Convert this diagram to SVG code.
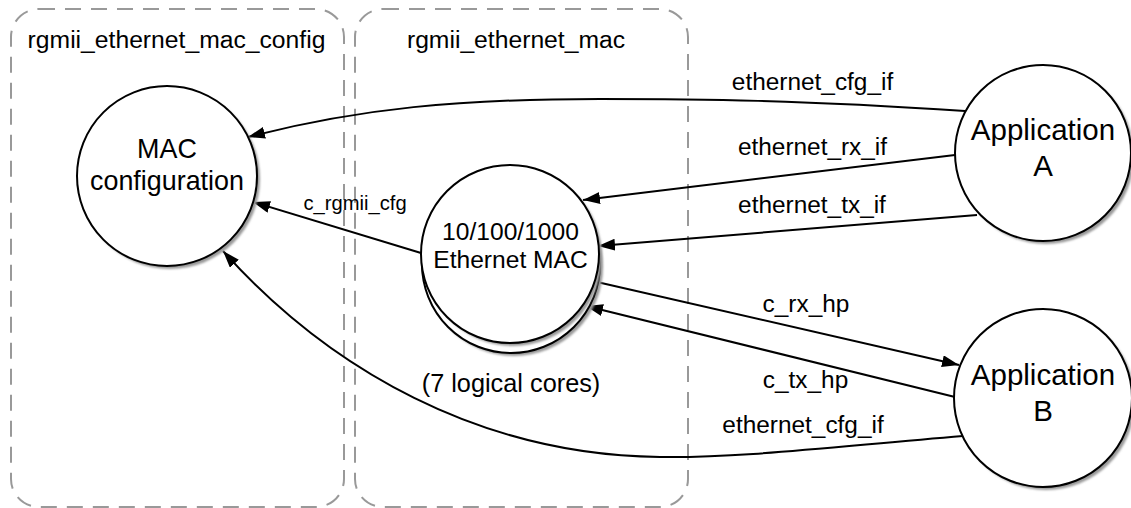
<svg xmlns="http://www.w3.org/2000/svg" width="1131" height="508" viewBox="0 0 1131 508">
<style>
.box{fill:none;stroke:#999;stroke-width:2;stroke-dasharray:16 10}
.node{fill:#fff;stroke:#000;stroke-width:2}
.shadow{fill:#999;stroke:none}
.edge{fill:none;stroke:#000;stroke-width:2;marker-end:url(#arrow)}
text{font-family:"Liberation Sans",Arial,sans-serif;fill:#000;text-anchor:middle}
.title{font-size:24.7px}
.lbl{font-size:24.4px}
.nt{font-size:26.9px}
.mt{font-size:24.6px}
.app{font-size:29.5px}
</style>
<defs>
<marker id="arrow" markerUnits="userSpaceOnUse" markerWidth="18" markerHeight="14" refX="17" refY="6" orient="auto">
<path d="M0,0 L17,6 L0,12 Z" fill="#000"/>
</marker>
<filter id="blur" x="-10%" y="-10%" width="120%" height="120%"><feGaussianBlur stdDeviation="1"/></filter>
</defs>
<rect width="1131" height="508" fill="#fff"/>
<g id="container_config">
<rect class="box" x="11" y="9" width="333" height="498" rx="28" ry="28"/>
<text class="title" x="176.5" y="48">rgmii_ethernet_mac_config</text>
</g>
<g id="container_mac">
<rect class="box" x="355" y="9" width="333" height="498" rx="28" ry="28"/>
<text class="title" x="516" y="48">rgmii_ethernet_mac</text>
</g>
<g id="connectors">
<path class="edge" d="M965,111 C800,100 700,99 600,99 C460,99 360,108 248,137"/>
<path class="edge" d="M955,155 L583,200"/>
<path class="edge" d="M977,215 L598,246"/>
<path class="edge" d="M421,253 L253,202"/>
<path class="edge" d="M597,282 L959,365"/>
<path class="edge" d="M955,397 L586,306"/>
<path class="edge" d="M963,436 C820,448 740,458 660,457 C480,455 330,370 223,251"/>
<text class="lbl" x="812.5" y="90">ethernet_cfg_if</text>
<text class="lbl" x="812.5" y="155">ethernet_rx_if</text>
<text class="lbl" x="812" y="213">ethernet_tx_if</text>
<text x="355" y="210" style="font-size:20.2px">c_rgmii_cfg</text>
<text class="lbl" x="806" y="312">c_rx_hp</text>
<text class="lbl" x="805.5" y="388">c_tx_hp</text>
<text class="lbl" x="803" y="433">ethernet_cfg_if</text>
</g>
<g id="mac_configuration">
<circle class="shadow" cx="170" cy="179" r="90" filter="url(#blur)"/>
<circle class="node" cx="167" cy="176" r="90"/>
<text class="nt" x="167" y="158">MAC</text>
<text class="nt" x="167" y="190">configuration</text>
</g>
<g id="ethernet_mac">
<circle class="shadow" cx="514" cy="267" r="89" filter="url(#blur)"/>
<circle class="node" cx="511" cy="264" r="89"/>
<circle class="shadow" cx="513" cy="257" r="89" filter="url(#blur)"/>
<circle class="node" cx="510" cy="254" r="89"/>
<text class="mt" x="510.5" y="240">10/100/1000</text>
<text class="mt" x="510.5" y="268">Ethernet MAC</text>
<text x="511" y="392" style="font-size:25.3px">(7 logical cores)</text>
</g>
<g id="application_a">
<circle class="shadow" cx="1046" cy="156" r="88" filter="url(#blur)"/>
<circle class="node" cx="1043" cy="153" r="88"/>
<text class="app" x="1043" y="140">Application</text>
<text class="app" x="1043" y="176">A</text>
</g>
<g id="application_b">
<circle class="shadow" cx="1046" cy="401" r="89" filter="url(#blur)"/>
<circle class="node" cx="1043" cy="398" r="89"/>
<text class="app" x="1043" y="385">Application</text>
<text class="app" x="1043" y="421">B</text>
</g>
</svg>
